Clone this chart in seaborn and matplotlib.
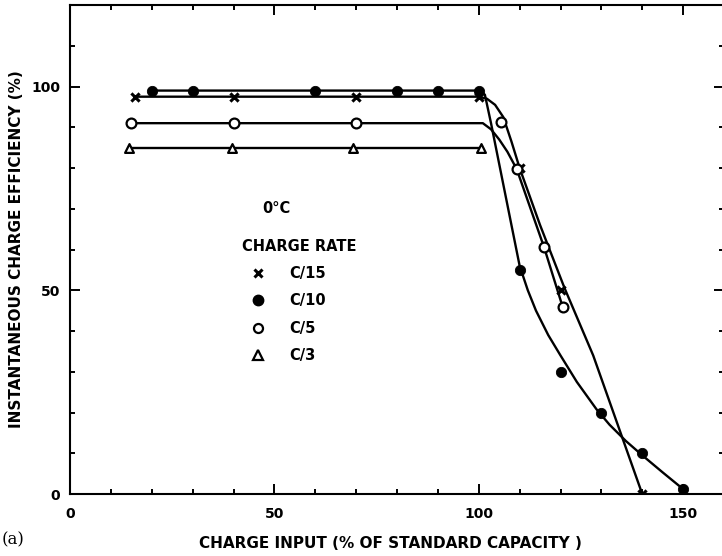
import numpy as np
import pandas as pd
import seaborn as sns
import matplotlib.pyplot as plt
from matplotlib.lines import Line2D
from matplotlib.ticker import MultipleLocator

# measured points, charge input (%) vs instantaneous efficiency (%)
c15_x = [16, 40, 70, 100, 110, 120, 140]
c15_y = [97.5, 97.5, 97.5, 97.5, 80, 50, 0]
c10_x = [20, 30, 60, 80, 90, 100, 110, 120, 130, 140, 150]
c10_y = [99, 99, 99, 99, 99, 99, 55, 30, 20, 10, 1.2]
c5_x = [15, 40, 70, 105.4, 109.3, 116, 120.5]
c5_y = [91, 91, 91, 91.4, 79.7, 60.5, 46]
c3_x = [14.5, 39.7, 69.3, 100.5]
c3_y = [85, 85, 85, 85]

# hand drawn fitted curves
c15_fit_x = [16, 100, 102, 104, 106, 108, 110, 115, 121, 128, 134, 140]
c15_fit_y = [97.5, 97.5, 97, 95.5, 92.5, 86.5, 80, 66, 50.5, 34, 17, 0]
c10_fit_x = [20, 100, 101.5, 103, 105, 107, 110, 112, 114, 117, 120, 124, 128.8, 132, 136, 140, 145, 150]
c10_fit_y = [99, 99, 98, 91, 81, 71, 56, 50, 45, 39, 34, 27.5, 20.8, 17, 13, 9.5, 5.3, 1.2]
c5_fit_x = [15, 101, 103, 105, 107, 109.3, 116, 120.5]
c5_fit_y = [91, 91, 89.5, 87, 84, 79.7, 60.5, 46]
c3_fit_x = [14.5, 100.5]
c3_fit_y = [85, 85]

rates = ["C/15", "C/10", "C/5", "C/3"]

sns.set_theme(style="ticks")
plt.rcParams['font.family'] = ['DejaVu Sans']
plt.rcParams['font.weight'] = 'bold'
plt.rcParams['text.color'] = 'black'
plt.rcParams['axes.labelcolor'] = 'black'
plt.rcParams['xtick.color'] = 'black'
plt.rcParams['ytick.color'] = 'black'

fig = plt.figure(figsize=(7.22, 5.56), dpi=100)
ax = fig.add_axes([70 / 722, 62 / 556, 654 / 722, 489 / 556])

fits = [(c15_fit_x, c15_fit_y), (c10_fit_x, c10_fit_y), (c5_fit_x, c5_fit_y), (c3_fit_x, c3_fit_y)]
for (fx, fy) in fits:
    sns.lineplot(x=fx, y=fy, ax=ax, color='black', lw=1.7, sort=False, estimator=None)

sns.scatterplot(x=c15_x, y=c15_y, ax=ax, marker='x', s=35, color='black', linewidth=2.2, zorder=5)
sns.scatterplot(x=c10_x, y=c10_y, ax=ax, marker='o', s=55, color='black', edgecolor='black', zorder=5)
sns.scatterplot(x=c5_x, y=c5_y, ax=ax, marker='o', s=50, facecolor='white', edgecolor='black', linewidth=1.6, zorder=5)
sns.scatterplot(x=c3_x, y=c3_y, ax=ax, marker='^', s=40, facecolor='white', edgecolor='black', linewidth=1.6, zorder=5)

ax.set_xlim(0, 160)
ax.set_ylim(0, 120)
ax.xaxis.set_major_locator(MultipleLocator(50))
ax.xaxis.set_minor_locator(MultipleLocator(10))
ax.yaxis.set_major_locator(MultipleLocator(50))
ax.yaxis.set_minor_locator(MultipleLocator(10))
ax.tick_params(which='both', direction='in', top=True, right=True, width=1.4, colors='black')
ax.tick_params(which='major', length=7, labelsize=10)
ax.tick_params(which='minor', length=3.8)
ax.tick_params(axis='x', which='major', pad=9)
ax.tick_params(axis='y', which='major', pad=7)
for sp in ax.spines.values():
    sp.set_linewidth(1.5)
    sp.set_color('black')

ax.set_xlabel("CHARGE INPUT (% OF STANDARD CAPACITY )", fontsize=11, fontweight='bold')
ax.xaxis.set_label_coords(0.49, -0.085)
ax.set_ylabel("INSTANTANEOUS CHARGE EFFICIENCY (%)", fontsize=11, fontweight='bold')
ax.yaxis.set_label_coords(-0.07, 0.5)

# legend block inside the axes
ax.text(50.5, 70, "0°C", fontsize=10.5, fontweight='bold', ha='center', va='center')
ax.text(56, 60.7, "CHARGE RATE", fontsize=10.5, fontweight='bold', ha='center', va='center')
handles = [
    Line2D([], [], ls='none', marker='x', ms=6, mew=2.2, color='black'),
    Line2D([], [], ls='none', marker='o', ms=7.5, color='black'),
    Line2D([], [], ls='none', marker='o', ms=6.5, mfc='white', mec='black', mew=1.6),
    Line2D([], [], ls='none', marker='^', ms=6.5, mfc='white', mec='black', mew=1.6),
]
ax.legend(handles, rates, loc='upper left', bbox_to_anchor=(251 / 722, 1 - 266 / 556),
          bbox_transform=fig.transFigure, frameon=False, borderpad=0, borderaxespad=0,
          handlelength=1, handletextpad=1.6, labelspacing=0.85,
          prop={'size': 10.5, 'weight': 'bold'})

fig.text(2 / 722, 1 - 540 / 556, "(a)", fontsize=12, family='DejaVu Serif',
         fontweight='normal', va='center', ha='left')

fig.savefig("out.png", dpi=100)
